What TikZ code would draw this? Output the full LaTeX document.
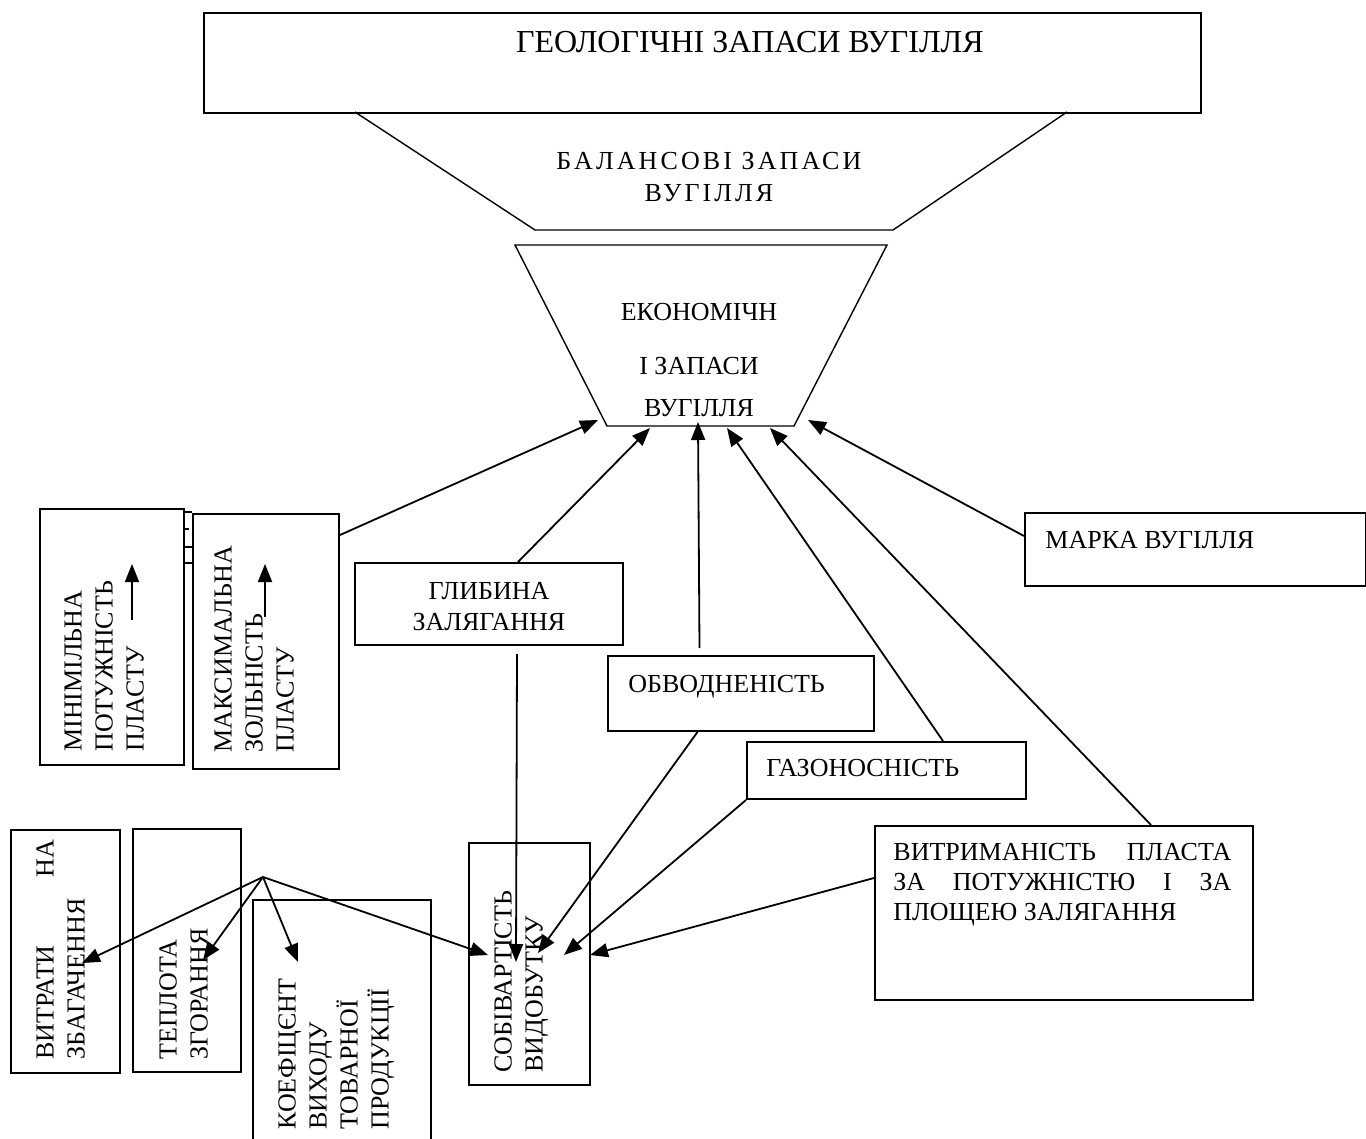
\documentclass[tikz,border=0pt]{standalone}
\usepackage{fontspec}
\setmainfont{Liberation Serif}
\usetikzlibrary{arrows.meta}

\tikzset{
    box/.style={draw, line width=1pt, anchor=north west, inner sep=0pt},
    txt/.style={inner sep=0pt, font=\fontsize{13pt}{15.5pt}\selectfont},
    vtxt/.style={txt, rotate=90, anchor=north west, align=left},
    lnk/.style={line width=0.8pt},
    arr/.style={line width=0.9pt, -{Triangle[length=9pt,width=7pt]}}
}

\begin{document}
\begin{tikzpicture}[x=0.5pt,y=-0.5pt]
    \useasboundingbox (0,0) rectangle (1366,1139);

    \node[box, minimum width=498.5pt, minimum height=50pt] (geol) at (203,12) {};
    \node[txt, font=\fontsize{16pt}{18pt}\selectfont, anchor=base] (geoltxt) at (750,53) {ГЕОЛОГІЧНІ ЗАПАСИ ВУГІЛЛЯ};

    \draw[line width=0.7pt] (355,112) -- (535,230) -- (893,230) -- (1067,112);
    \node[txt, font=\fontsize{13pt}{16pt}\selectfont\addfontfeature{LetterSpace=12}, anchor=north, align=center] (baltxt) at (709,152) {БАЛАНСОВІ ЗАПАСИ\\ВУГІЛЛЯ};

    \draw[line width=0.7pt] (515,245) -- (887,245) -- (794,426) -- (607,426) -- cycle;
    \node[txt, anchor=north, align=center] (econtxt) at (699,303) {ЕКОНОМІЧН\\[11.5pt]І ЗАПАСИ\\[5.5pt]ВУГІЛЛЯ};

    \coordinate (e1) at (598,420);
    \coordinate (e2) at (650,428);
    \coordinate (e3) at (698,422);
    \coordinate (e4) at (727,428);
    \coordinate (e5) at (770,428);
    \coordinate (e6) at (808,420);

    \node[box, minimum width=72pt, minimum height=128pt] (min) at (39,508) {};
    \node[box, minimum width=73pt, minimum height=127.5pt] (maks) at (192,513) {};
    \node[vtxt] (mintxt) at (64,752) {МІНІМІЛЬНА\\ПОТУЖНІСТЬ\\ПЛАСТУ};
    \node[vtxt] (makstxt) at (214,753) {МАКСИМАЛЬНА\\ЗОЛЬНІСТЬ\\ПЛАСТУ};
    \draw[lnk] (183,512) -- (192,512);
    \draw[lnk, dashed] (183,529) -- (192,529);
    \draw[lnk] (183,547) -- (192,547);
    \draw[lnk] (183,563) -- (192,563);
    \coordinate (mina) at (132,620);
    \coordinate (minb) at (132,564);
    \coordinate (maxa) at (265,617);
    \coordinate (maxb) at (265,564);
    \draw[arr] (mina) -- (minb);
    \draw[arr] (maxa) -- (maxb);

    \node[box, minimum width=134pt, minimum height=41pt] (glyb) at (354,562) {};
    \node[txt, anchor=north, align=center] (glybtxt) at (489,582) {ГЛИБИНА\\ЗАЛЯГАННЯ};
    \node[box, minimum width=133pt, minimum height=37.5pt] (obvod) at (607,655) {};
    \node[txt, anchor=base west] (obvodtxt) at (628,692) {ОБВОДНЕНІСТЬ};
    \node[box, minimum width=139.5pt, minimum height=28.5pt] (gaz) at (746,741) {};
    \node[txt, anchor=base west] (gaztxt) at (766,776) {ГАЗОНОСНІСТЬ};
    \node[box, minimum width=170.5pt, minimum height=36.5pt] (marka) at (1024,512) {};
    \node[txt, anchor=base west] (markatxt) at (1045,548) {МАРКА ВУГІЛЛЯ};
    \node[box, minimum width=189pt, minimum height=87pt] (vytr) at (874,825) {};
    \node[txt, font=\fontsize{13pt}{15pt}\selectfont, anchor=north west, align=left] (vytrtxt) at (893,843) {\makebox[169pt][s]{ВИТРИМАНІСТЬ ПЛАСТА}\\\makebox[169pt][s]{ЗА ПОТУЖНІСТЮ І ЗА}\\ПЛОЩЕЮ ЗАЛЯГАННЯ};

    \node[box, minimum width=54.5pt, minimum height=121.5pt] (vytraty) at (10,829) {};
    \node[box, minimum width=54pt, minimum height=121.5pt] (teplota) at (132,828) {};
    \node[box, minimum width=89pt, minimum height=130.5pt] (koef) at (252,899) {};
    \node[box, minimum width=60.5pt, minimum height=121pt] (sob) at (468,842) {};
    \node[vtxt] (vytratytxt) at (36,1060) {\makebox[110pt][s]{ВИТРАТИ НА}\\ЗБАГАЧЕННЯ};
    \node[vtxt] (teplotatxt) at (159,1060) {ТЕПЛОТА\\ЗГОРАННЯ};
    \node[vtxt] (koeftxt) at (278,1130) {КОЕФІЦЄНТ\\ВИХОДУ\\ТОВАРНОЇ\\ПРОДУКЦІЇ};
    \node[vtxt] (sobtxt) at (494,1073) {СОБІВАРТІСТЬ\\ВИДОБУТКУ};

    \coordinate (s1) at (488,955);
    \coordinate (s2) at (516,962);
    \coordinate (s3) at (538,953);
    \coordinate (s4) at (564,955);
    \coordinate (s5) at (590,955);
    \coordinate (fan) at (263,877);
    \coordinate (v1) at (82,963);
    \coordinate (t1) at (203,960);
    \coordinate (k1) at (298,962);

    \draw[arr] ([yshift=-11pt]maks.north east) -- (e1);
    \draw[arr] ([xshift=14.5pt]glyb.north) -- (e2);
    \draw[arr] ([xshift=-20.75pt,yshift=3.5pt]obvod.north) -- (e3);
    \draw[arr] ([xshift=28.25pt]gaz.north) -- (e4);
    \draw[arr] ([xshift=43.5pt]vytr.north) -- (e5);
    \draw[arr] ([yshift=6.75pt]marka.west) -- (e6);

    \draw[arr] ([xshift=14pt,yshift=-4pt]glyb.south) -- (s2);
    \draw[arr] ([xshift=-21.75pt]obvod.south) -- (s3);
    \draw[arr] (gaz.south west) -- (s4);
    \draw[arr] ([yshift=17.5pt]vytr.west) -- (s5);

    \draw[arr] (fan) -- (v1);
    \draw[arr] (fan) -- (t1);
    \draw[arr] (fan) -- (k1);
    \draw[arr] (fan) -- (s1);
\end{tikzpicture}
\end{document}
